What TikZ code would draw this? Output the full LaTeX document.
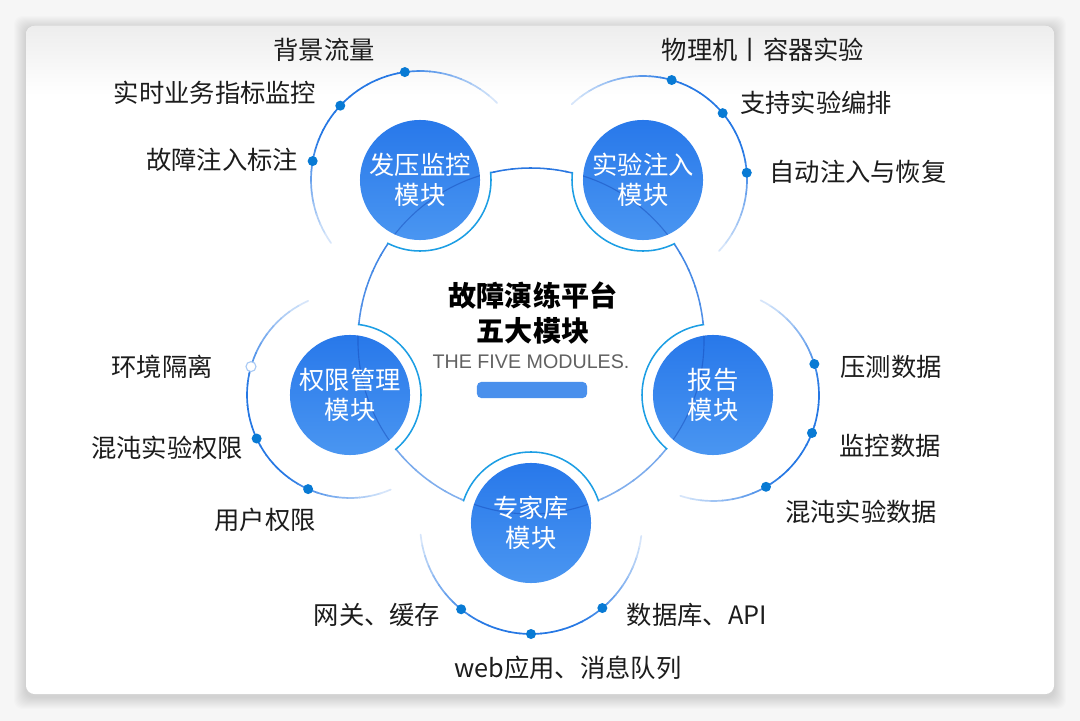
\documentclass[tikz,border=0pt]{standalone}
\usepackage{fontspec}
\newfontfamily\cjk{Noto Sans CJK SC}
\newfontfamily\latin{Liberation Sans}
\usetikzlibrary{positioning,calc}

\definecolor{modtop}{RGB}{40,120,234}
\definecolor{modbot}{RGB}{74,150,241}
\definecolor{modline}{RGB}{20,70,180}
\definecolor{dotblue}{RGB}{8,122,212}
\definecolor{arcblue}{RGB}{38,120,228}
\definecolor{ringblue}{RGB}{40,118,225}
\definecolor{bitecyan}{RGB}{28,158,228}
\definecolor{barblue}{RGB}{74,144,236}
\definecolor{txt}{RGB}{28,28,28}
\definecolor{pagebg}{RGB}{246,246,246}

\tikzset{
  module/.style={circle, minimum size=3cm, inner sep=0pt, top color=modtop,
    bottom color=modbot, align=center, text=white,
    font=\cjk\fontsize{18}{21.5}\selectfont,
    path picture={\draw[line width=0.8pt, draw=modline, opacity=0.45] (hub) circle[radius=173];}},
  item/.style={font=\cjk\fontsize{18}{22}\selectfont, text=txt, inner sep=0pt},
  dot/.style={circle, fill=dotblue, minimum size=2.5mm, inner sep=0pt},
  hollowdot/.style={circle, draw=arcblue!40!white, fill=white, line width=0.8pt,
    minimum size=2.5mm, inner sep=0pt},
  ringline/.style={line width=1.1pt, line cap=round},
  biteline/.style={line width=1.1pt, draw=bitecyan},
  outarc/.style={line width=1.2pt, line cap=round},
  title/.style={font=\cjk\bfseries\fontsize{20}{25}\selectfont, align=center, text=black},
  subtitle/.style={font=\latin\fontsize{14}{16}\selectfont, text=black!62},
  bar/.style={rectangle, rounded corners=3pt, fill=barblue, minimum width=2.75cm,
    minimum height=4mm, inner sep=0pt},
}

% arc that fades out towards both ends: centre, radius, start, end
\newcommand{\fadearc}[4]{%
  \foreach \k in {0,...,29}{%
    \pgfmathsetmacro{\aa}{#3+(#4-#3)*\k/30}
    \pgfmathtruncatemacro{\pp}{15+85*min(1,3*min((\k+0.5)/30,1-(\k+0.5)/30))}
    \draw[outarc, draw=arcblue!\pp!white] ($(#1)+(\aa:#2)$)
      arc[start angle=\aa, delta angle={(#4-#3)/30+0.3}, radius=#2];
  }}

\begin{document}
\begin{tikzpicture}[x=0.025cm, y=0.025cm]
  \useasboundingbox (0,0) rectangle (1080,-721);
  \fill[pagebg] (0,0) rectangle (1080,-721);

  % card with soft shadow
  \foreach \i in {1,...,12}
    \fill[black, opacity=0.01, rounded corners=6pt] (26-\i,-26+\i-2) rectangle (1054+\i,-694-\i-3);
  \fill[white, rounded corners=6pt] (26,-26) rectangle (1054,-694);
  \begin{scope}
    \clip[rounded corners=6pt] (26,-26) rectangle (1054,-694);
    \shade[top color=black!7, bottom color=white] (26,-26) rectangle (1054,-95);
  \end{scope}

  % centres
  \coordinate (hub) at (531,-341);
  \coordinate (c1) at (420,-180);
  \coordinate (c2) at (643,-180);
  \coordinate (c3) at (350,-395);
  \coordinate (c4) at (713,-395);
  \coordinate (c5) at (531,-523);

  % big ring
  \foreach \a in {0,6,...,354}{
    \pgfmathtruncatemacro{\pp}{78+22*sin(\a+3)}
    \draw[ringline, draw=ringblue!\pp!white] ($(hub)+(\a:173)$)
      arc[start angle=\a, delta angle=6.5, radius=173];
  }
  \foreach \c in {c1,c2,c3,c4,c5}
    \fill[white] (\c) circle[radius=71];
  \begin{scope}
    \clip (hub) circle[radius=174];
    \foreach \c in {c1,c2,c3,c4,c5}
      \draw[biteline] (\c) circle[radius=71];
  \end{scope}

  % outer arcs
  \fadearc{c1}{109}{45}{215}
  \fadearc{c2}{104}{-43}{133}
  \fadearc{c3}{103}{114}{293}
  \fadearc{c4}{106}{-108}{63}
  \fadearc{c5}{111}{186}{353}

  % modules
  \node[module] (m1) at (c1) {发压监控\\模块};
  \node[module] (m2) at (c2) {实验注入\\模块};
  \node[module] (m3) at (c3) {权限管理\\模块};
  \node[module] (m4) at (c4) {报告\\模块};
  \node[module] (m5) at (c5) {专家库\\模块};

  % title
  \node[title] (ttl) at (533,-313) {故障演练平台\\五大模块};
  \node[subtitle] (eng) at (531,-362) {THE FIVE MODULES.};
  \node[bar] (bar) at (532,-390) {};

  % dots
  \node[dot] (d1a) at ($(c1)+(98:109)$) {};
  \node[dot] (d1b) at ($(c1)+(137:109)$) {};
  \node[dot] (d1c) at ($(c1)+(170:109)$) {};
  \node[dot] (d2a) at ($(c2)+(74:104)$) {};
  \node[dot] (d2b) at ($(c2)+(40:104)$) {};
  \node[dot] (d2c) at ($(c2)+(4:104)$) {};
  \node[hollowdot] (d3a) at ($(c3)+(164:103)$) {};
  \node[dot] (d3b) at ($(c3)+(205:103)$) {};
  \node[dot] (d3c) at ($(c3)+(246:103)$) {};
  \node[dot] (d4a) at ($(c4)+(17:106)$) {};
  \node[dot] (d4b) at ($(c4)+(-21:106)$) {};
  \node[dot] (d4c) at ($(c4)+(-60:106)$) {};
  \node[dot] (d5a) at ($(c5)+(231:111)$) {};
  \node[dot] (d5b) at ($(c5)+(270:111)$) {};
  \node[dot] (d5c) at ($(c5)+(310:111)$) {};

  % labels
  \node[item] (l1a) at (324,-50) {背景流量};
  \node[item] (l1b) at (215,-93) {实时业务指标监控};
  \node[item] (l1c) at (222,-160) {故障注入标注};
  \node[item] (l2a) at (763,-50) {物理机丨容器实验};
  \node[item] (l2b) at (816,-103) {支持实验编排};
  \node[item] (l2c) at (858,-172) {自动注入与恢复};
  \node[item] (l3a) at (162,-367) {环境隔离};
  \node[item] (l3b) at (167,-448) {混沌实验权限};
  \node[item] (l3c) at (265,-520) {用户权限};
  \node[item] (l4a) at (891,-367) {压测数据};
  \node[item] (l4b) at (890,-446) {监控数据};
  \node[item] (l4c) at (861,-512) {混沌实验数据};
  \node[item] (l5a) at (377,-615) {网关、缓存};
  \node[item] (l5b) at (697,-615) {数据库、API};
  \node[item] (l5c) at (568,-668) {web应用、消息队列};
\end{tikzpicture}
\end{document}
